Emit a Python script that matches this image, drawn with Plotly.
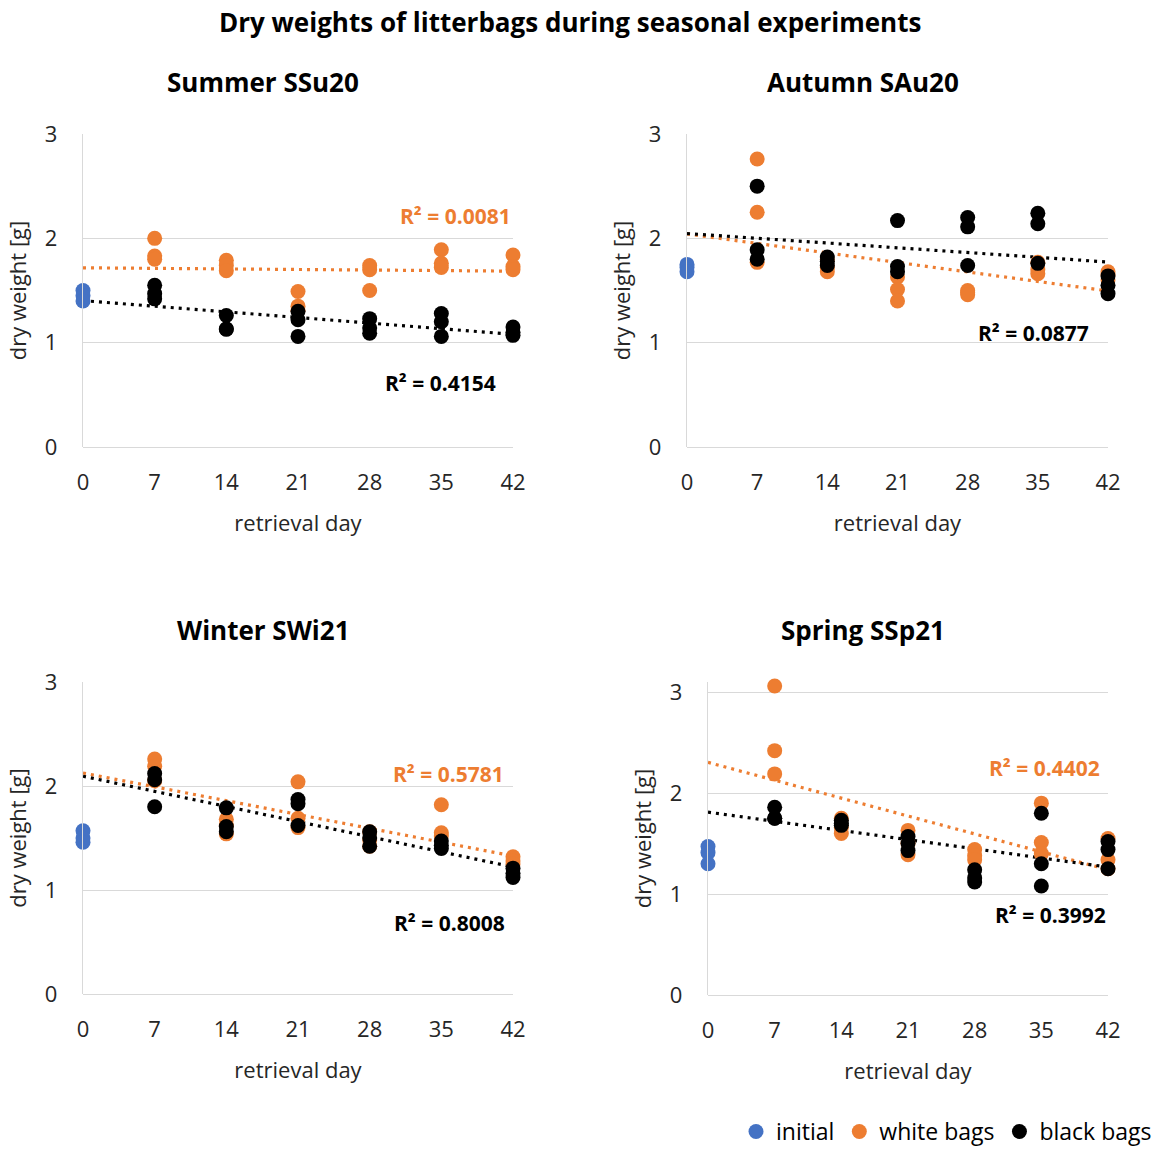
import numpy as np
import plotly.graph_objects as go

FONT = "Open Sans"
BLUE = "#4472C4"
ORANGE = "#ED7D31"
BLACK = "#000000"
TXT = "#262626"

days = [7, 14, 21, 28, 35, 42]
day_ticks = [0, 7, 14, 21, 28, 35, 42]

# Summer SSu20
su_initial = [1.50, 1.45, 1.40]
su_white = [[2.00, 1.83, 1.80], [1.79, 1.74, 1.69], [1.49, 1.35, 1.31],
            [1.74, 1.70, 1.50], [1.89, 1.76, 1.72], [1.84, 1.73, 1.70]]
su_black = [[1.55, 1.47, 1.42], [1.26, 1.13, 1.13], [1.30, 1.22, 1.06],
            [1.23, 1.14, 1.09], [1.28, 1.20, 1.06], [1.15, 1.10, 1.07]]
su_r2 = ["R² = 0.0081", "R² = 0.4154"]

# Autumn SAu20
au_initial = [1.75, 1.72, 1.68]
au_white = [[2.76, 2.25, 1.77], [1.80, 1.72, 1.68], [1.63, 1.51, 1.40],
            [1.50, 1.48, 1.46], [1.77, 1.70, 1.66], [1.68, 1.65, 1.60]]
au_black = [[2.50, 1.89, 1.80], [1.82, 1.78, 1.74], [2.17, 1.73, 1.68],
            [2.20, 2.11, 1.74], [2.24, 2.14, 1.76], [1.64, 1.55, 1.47]]
au_r2 = ["R² = 0.2604", "R² = 0.0877"]

# Winter SWi21
wi_initial = [1.57, 1.50, 1.46]
wi_white = [[2.26, 2.19, 2.05], [1.68, 1.62, 1.54], [2.04, 1.69, 1.60],
            [1.56, 1.48, 1.42], [1.82, 1.55, 1.52], [1.32, 1.28, 1.25]]
wi_black = [[2.12, 2.06, 1.80], [1.79, 1.61, 1.56], [1.87, 1.83, 1.62],
            [1.56, 1.50, 1.42], [1.47, 1.43, 1.40], [1.21, 1.16, 1.12]]
wi_r2 = ["R² = 0.5781", "R² = 0.8008"]

# Spring SSp21
sp_initial = [1.47, 1.41, 1.30]
sp_white = [[3.06, 2.42, 2.19], [1.75, 1.66, 1.60], [1.63, 1.50, 1.39],
            [1.44, 1.38, 1.34], [1.90, 1.51, 1.40], [1.55, 1.34, 1.25]]
sp_black = [[1.86, 1.75, 1.75], [1.73, 1.70, 1.68], [1.57, 1.50, 1.43],
            [1.24, 1.16, 1.12], [1.80, 1.30, 1.08], [1.52, 1.44, 1.25]]
sp_r2 = ["R² = 0.4402", "R² = 0.3992"]

titles = ["Summer SSu20", "Autumn SAu20", "Winter SWi21", "Spring SSp21"]

W, H = 1157, 1153
def px_x(a, b):
    return [a / W, b / W]
def px_y(top, bottom):
    return [(H - bottom) / H, (H - top) / H]

panels = [
    dict(data=(su_initial, su_white, su_black), r2=su_r2, xd=px_x(83, 513), yd=px_y(134, 447),
         yr=[0, 3], r2pos=[(42, 2.21), (40.5, 0.61)], tpos=(263, 82)),
    dict(data=(au_initial, au_white, au_black), r2=au_r2, xd=px_x(687, 1108), yd=px_y(134, 447),
         yr=[0, 3], r2pos=[(43.1, 2.45), (40.3, 1.09)], tpos=(863, 82)),
    dict(data=(wi_initial, wi_white, wi_black), r2=wi_r2, xd=px_x(83, 513), yd=px_y(682, 994),
         yr=[0, 3], r2pos=[(41.3, 2.12), (41.4, 0.68)], tpos=(263, 630)),
    dict(data=(sp_initial, sp_white, sp_black), r2=sp_r2, xd=px_x(708, 1108), yd=px_y(682, 995),
         yr=[0, 3.1], r2pos=[(41.4, 2.25), (42, 0.79)], tpos=(863, 630)),
]

fig = go.Figure()
layout = {}
annotations = []

for i, p in enumerate(panels):
    n = "" if i == 0 else str(i + 1)
    xa, ya = "x" + n, "y" + n
    init, white, black = p["data"]
    show = i == 0
    for vals, col in [(white, ORANGE), (black, BLACK)]:
        xs = np.array([d for d, v in zip(days, vals) for _ in v], dtype=float)
        ys = np.array([y for v in vals for y in v])
        m, c = np.polyfit(xs, ys, 1)
        xl = np.array([0, 42.0])
        fig.add_trace(go.Scatter(x=xl, y=m * xl + c, mode="lines", xaxis=xa, yaxis=ya,
                                 line=dict(color=col, width=3.2, dash="3px,5px"),
                                 showlegend=False, hoverinfo="skip", cliponaxis=False))
    fig.add_trace(go.Scatter(x=[0] * len(init), y=init, mode="markers", xaxis=xa, yaxis=ya,
                             marker=dict(color=BLUE, size=15), name="initial",
                             showlegend=show, legendgroup="i", cliponaxis=False))
    for vals, col, nm, lg in [(white, ORANGE, "white bags", "w"), (black, BLACK, "black bags", "b")]:
        xs = [d for d, v in zip(days, vals) for _ in v]
        ys = [y for v in vals for y in v]
        fig.add_trace(go.Scatter(x=xs, y=ys, mode="markers", xaxis=xa, yaxis=ya,
                                 marker=dict(color=col, size=15), name=nm,
                                 showlegend=show, legendgroup=lg, cliponaxis=False))
    layout["xaxis" + n] = dict(domain=p["xd"], range=[0, 42], tickvals=day_ticks, anchor=ya,
                               showgrid=False, zeroline=False, showline=False, automargin=False,
                               tickfont=dict(size=22, color=TXT), ticks="",
                               ticklabelstandoff=20,
                               title=dict(text="retrieval day", font=dict(size=22, color=TXT),
                                          standoff=20))
    layout["yaxis" + n] = dict(domain=p["yd"], range=p["yr"], tickvals=[0, 1, 2, 3], anchor=xa,
                               showgrid=True, gridcolor="#D9D9D9", gridwidth=1.3, automargin=False,
                               zeroline=True, zerolinecolor="#D9D9D9", zerolinewidth=1.3,
                               showline=True, linecolor="#D9D9D9", linewidth=1.3,
                               tickfont=dict(size=22, color=TXT), ticks="",
                               ticklabelstandoff=20,
                               title=dict(text="dry weight [g]", font=dict(size=22, color=TXT),
                                          standoff=12))
    for (ax_x, ax_y), txt, col in zip(p["r2pos"], p["r2"], [ORANGE, BLACK]):
        annotations.append(dict(x=ax_x, y=ax_y, xref=xa, yref=ya, text="<b>" + txt + "</b>",
                                showarrow=False, xanchor="right", yanchor="middle",
                                font=dict(size=21, color=col, family=FONT)))
    annotations.append(dict(x=p["tpos"][0] / W, y=(H - p["tpos"][1]) / H, xref="paper", yref="paper",
                            text="<b>" + titles[i] + "</b>", showarrow=False,
                            xanchor="center", yanchor="middle",
                            font=dict(size=26, color="#000000", family=FONT)))

annotations.append(dict(x=570 / W, y=(H - 22) / H, xref="paper", yref="paper",
                        text="<b>Dry weights of litterbags during seasonal experiments</b>",
                        showarrow=False, xanchor="center", yanchor="middle",
                        font=dict(size=26, color="#000000", family=FONT)))

fig.update_layout(
    **layout,
    annotations=annotations,
    width=W, height=H,
    margin=dict(l=0, r=0, t=0, b=0, autoexpand=False),
    paper_bgcolor="white", plot_bgcolor="white",
    font=dict(family=FONT, size=20, color="#000000"),
    showlegend=True,
    legend=dict(orientation="h", x=1, xanchor="right", y=0.0, yanchor="bottom",
                font=dict(size=23, color="#000000"), itemwidth=30, tracegroupgap=0,
                bgcolor="rgba(0,0,0,0)"),
)

fig.write_html("out.html", post_script="document.body.style.margin='0';")
